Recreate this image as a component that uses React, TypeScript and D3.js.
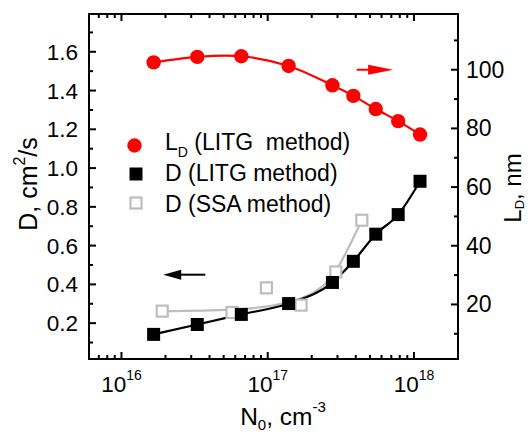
import * as React from "react";
import * as d3 from "d3";

// N0 (cm^-3) for the LITG points
const nLitg = [1.66e16, 3.3e16, 6.6e16, 1.39e17, 2.77e17, 3.85e17, 5.48e17, 7.8e17, 1.1e18];
// diffusion length, nm (right axis)
const ldLitg = [102.5, 104.4, 104.6, 101.3, 94.7, 91.1, 86.6, 82.5, 77.9];
// diffusion coefficient, cm2/s (left axis)
const dLitg = [0.142, 0.193, 0.245, 0.301, 0.41, 0.519, 0.659, 0.76, 0.932];

const nSsa = [1.9e16, 5.7e16, 9.8e16, 1.69e17, 2.92e17, 4.4e17];
const dSsa = [0.262, 0.255, 0.382, 0.293, 0.464, 0.731];

// guide line drawn through the SSA points
const nSsaFit = [1.9e16, 5.7e16, 1.39e17, 2.75e17, 3.0e17, 4.4e17];
const dSsaFit = [0.262, 0.27, 0.309, 0.438, 0.484, 0.731];

const leftTicks = [0.2, 0.4, 0.6, 0.8, 1.0, 1.2, 1.4, 1.6];
const rightTicks = [20, 40, 60, 80, 100];
const xTicks = [1e16, 1e17, 1e18];

function drawChart(svgRef) {
  const left = 89, right = 458, top = 14, bottom = 359;
  const font = "Arial, 'Liberation Sans', sans-serif";

  const x = d3.scaleLog().domain([6e15, 2e18]).range([left, right]);
  const yL = d3.scaleLinear().domain([0.015, 1.795]).range([bottom, top]);
  const yR = d3.scaleLinear().domain([1.4, 119]).range([bottom, top]);

  const svg = d3.select(svgRef.current);
  svg.selectAll("*").remove();

  // ticks (inside)
  const g = svg.append("g").attr("stroke", "#000").attr("stroke-width", 2);
  const minorX = [];
  for (let e = 15; e <= 18; e++) {
    for (let k = 2; k <= 9; k++) {
      const v = k * Math.pow(10, e);
      if (v > 6e15 && v < 2e18) minorX.push(v);
    }
  }
  xTicks.forEach(v => {
    g.append("line").attr("x1", x(v)).attr("x2", x(v)).attr("y1", bottom).attr("y2", bottom - 7);
    g.append("line").attr("x1", x(v)).attr("x2", x(v)).attr("y1", top).attr("y2", top + 7);
  });
  minorX.forEach(v => {
    g.append("line").attr("x1", x(v)).attr("x2", x(v)).attr("y1", bottom).attr("y2", bottom - 4);
    g.append("line").attr("x1", x(v)).attr("x2", x(v)).attr("y1", top).attr("y2", top + 4);
  });
  d3.range(1, 18).map(i => i / 10).forEach(v => {
    const major = leftTicks.some(t => Math.abs(t - v) < 1e-6);
    g.append("line").attr("x1", left).attr("x2", left + (major ? 7 : 4)).attr("y1", yL(v)).attr("y2", yL(v));
  });
  d3.range(10, 120, 10).forEach(v => {
    const major = rightTicks.includes(v);
    g.append("line").attr("x1", right).attr("x2", right - (major ? 7 : 4)).attr("y1", yR(v)).attr("y2", yR(v));
  });

  // frame
  svg.append("rect")
    .attr("x", left).attr("y", top)
    .attr("width", right - left).attr("height", bottom - top)
    .attr("fill", "none").attr("stroke", "#000").attr("stroke-width", 2);

  // tick labels
  svg.selectAll(".ltick").data(leftTicks).enter().append("text")
    .attr("x", 78).attr("y", d => yL(d) + 8)
    .attr("text-anchor", "end").attr("font-family", font).attr("font-size", 22.5)
    .text(d => d.toFixed(1));

  svg.selectAll(".rtick").data(rightTicks).enter().append("text")
    .attr("x", 466).attr("y", d => yR(d) + 8)
    .attr("font-family", font).attr("font-size", 23)
    .text(d => d);

  xTicks.forEach(v => {
    const t = svg.append("text")
      .attr("x", x(v)).attr("y", 392)
      .attr("text-anchor", "middle").attr("font-family", font).attr("font-size", 22.5);
    t.append("tspan").text("10");
    t.append("tspan").attr("font-size", 14).attr("dy", -12).text(Math.round(Math.log10(v)));
  });

  // axis titles
  const xl = svg.append("text")
    .attr("x", 283).attr("y", 425)
    .attr("text-anchor", "middle").attr("font-family", font).attr("font-size", 24.5);
  xl.append("tspan").text("N");
  xl.append("tspan").attr("font-size", 15).attr("dy", 5).text("0");
  xl.append("tspan").attr("dy", -5).text(", cm");
  xl.append("tspan").attr("font-size", 15).attr("dy", -13).text("-3");

  const yl = svg.append("text")
    .attr("transform", "translate(36.5,184) rotate(-90)")
    .attr("text-anchor", "middle").attr("font-family", font).attr("font-size", 25);
  yl.append("tspan").text("D, cm");
  yl.append("tspan").attr("font-size", 16).attr("dy", -12).text("2");
  yl.append("tspan").attr("dy", 12).text("/s");

  const yr = svg.append("text")
    .attr("transform", "translate(520.5,188) rotate(-90)")
    .attr("text-anchor", "middle").attr("font-family", font).attr("font-size", 24);
  yr.append("tspan").text("L");
  yr.append("tspan").attr("font-size", 13).attr("dy", 3).text("D");
  yr.append("tspan").attr("dy", -3).text(", nm");

  // curves
  const redLine = d3.line().x(d => x(d[0])).y(d => yR(d[1])).curve(d3.curveCatmullRom);
  const dLine = d3.line().x(d => x(d[0])).y(d => yL(d[1])).curve(d3.curveMonotoneX);

  svg.append("path").attr("d", dLine(d3.zip(nSsaFit, dSsaFit)))
    .attr("fill", "none").attr("stroke", "#bdbdbd").attr("stroke-width", 2.2);
  svg.append("path").attr("d", dLine(d3.zip(nLitg, dLitg)))
    .attr("fill", "none").attr("stroke", "#000").attr("stroke-width", 2.2);
  svg.append("path").attr("d", redLine(d3.zip(nLitg, ldLitg)))
    .attr("fill", "none").attr("stroke", "#ff0000").attr("stroke-width", 2.2);

  // markers
  svg.selectAll(".ssa").data(d3.zip(nSsa, dSsa)).enter().append("rect")
    .attr("x", d => x(d[0]) - 5.5).attr("y", d => yL(d[1]) - 5.5)
    .attr("width", 11).attr("height", 11)
    .attr("fill", "#fff").attr("stroke", "#bdbdbd").attr("stroke-width", 2.2);
  svg.selectAll(".litg").data(d3.zip(nLitg, dLitg)).enter().append("rect")
    .attr("x", d => x(d[0]) - 6.5).attr("y", d => yL(d[1]) - 6.5)
    .attr("width", 13).attr("height", 13).attr("fill", "#000");
  svg.selectAll(".ld").data(d3.zip(nLitg, ldLitg)).enter().append("circle")
    .attr("cx", d => x(d[0])).attr("cy", d => yR(d[1])).attr("r", 7.2)
    .attr("fill", "#ff0000");

  // arrows
  const ra = { x0: x(4.06e17), x1: x(7.2e17), y: yR(100) };
  svg.append("line").attr("x1", ra.x0).attr("x2", ra.x1 - 20).attr("y1", ra.y).attr("y2", ra.y)
    .attr("stroke", "#ff0000").attr("stroke-width", 2);
  svg.append("path")
    .attr("d", `M${ra.x1},${ra.y} L${ra.x1 - 25},${ra.y - 5} L${ra.x1 - 25},${ra.y + 5} Z`)
    .attr("fill", "#ff0000");

  const ba = { x0: x(1.93e16), x1: x(3.74e16), y: yL(0.45) };
  svg.append("line").attr("x1", ba.x0 + 14).attr("x2", ba.x1).attr("y1", ba.y).attr("y2", ba.y)
    .attr("stroke", "#000").attr("stroke-width", 2);
  svg.append("path")
    .attr("d", `M${ba.x0},${ba.y} L${ba.x0 + 18},${ba.y - 5} L${ba.x0 + 18},${ba.y + 5} Z`)
    .attr("fill", "#000");

  // legend
  const lg = svg.append("g").attr("font-family", font).attr("font-size", 23);
  lg.append("circle").attr("cx", 134.5).attr("cy", 145.5).attr("r", 7.2).attr("fill", "#ff0000");
  lg.append("rect").attr("x", 129.5).attr("y", 167.5).attr("width", 13).attr("height", 13).attr("fill", "#000");
  lg.append("rect").attr("x", 130.5).attr("y", 197.5).attr("width", 11).attr("height", 11)
    .attr("fill", "#fff").attr("stroke", "#bdbdbd").attr("stroke-width", 2.2);

  const t1 = lg.append("text").attr("x", 165).attr("y", 150).style("white-space", "pre");
  t1.append("tspan").text("L");
  t1.append("tspan").attr("font-size", 14).attr("dy", 7).text("D");
  t1.append("tspan").attr("dy", -7).text(" (LITG  method)");
  lg.append("text").attr("x", 165).attr("y", 181).text("D (LITG method)");
  lg.append("text").attr("x", 165).attr("y", 212).text("D (SSA method)");
}

const App = () => {
  const svgRef = React.useRef(null);

  React.useEffect(() => {
    drawChart(svgRef);
  }, [svgRef]);

  return (
    <svg ref={svgRef} width={532} height={435}
      style={{ position: "absolute", left: 0, top: 0, background: "#fff" }} />
  );
};

export default App;
